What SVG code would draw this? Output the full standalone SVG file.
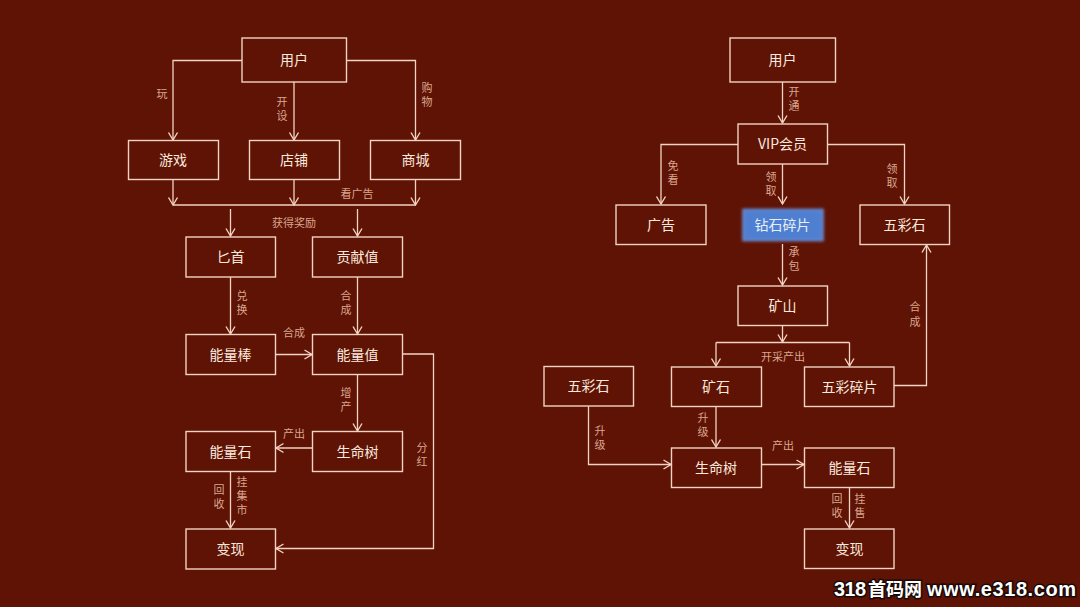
<svg xmlns="http://www.w3.org/2000/svg" width="1080" height="607" viewBox="0 0 1080 607">
<style>
text{font-family:"Noto Sans CJK SC","Liberation Sans",sans-serif;text-anchor:middle}
.n rect{fill:none;stroke:#f3d3c2;stroke-width:1.4}
.n text{fill:#fbe9de;font-size:14px;font-weight:400}
.c path{fill:none;stroke:#f3d3c2;stroke-width:1.3;marker-end:url(#a)}
.c path.p{marker-end:none}
.l text{fill:#dba58e;font-size:11px}
.w{fill:#fff;stroke:#1a0a06;stroke-width:3;paint-order:stroke;font-weight:700;font-family:"Liberation Sans","Noto Sans CJK SC",sans-serif;font-size:20px;text-anchor:start}
</style>
<defs>
<marker id="a" markerUnits="userSpaceOnUse" markerWidth="12" markerHeight="12" refX="9" refY="6" orient="auto"><path d="M1.500 1.500L9 6L1.500 10.500" fill="none" stroke="#f3d3c2" stroke-width="1.4"/></marker>
<filter id="b" x="-20%" y="-30%" width="140%" height="160%"><feGaussianBlur stdDeviation="1.5"/></filter>
</defs>
<rect width="1080" height="607" fill="#5e1305"/>
<g class="c" id="connectors">
<path d="M242 60.500H173V140"/>
<path d="M294 82V140"/>
<path d="M347 60.500H415.500V140"/>
<path d="M173 180V205"/>
<path d="M294 180V205"/>
<path d="M415.500 180V205"/>
<path class="p" d="M173 205H415.500"/>
<path d="M230.500 209V236"/>
<path d="M357.500 209V236"/>
<path d="M230.500 277V334"/>
<path d="M357.500 277V334"/>
<path d="M276 354.500H312"/>
<path d="M357.500 374.500V431"/>
<path d="M312 448H276"/>
<path d="M230.500 471.500V528"/>
<path d="M403 354H433.500V548.500H276"/>
<path d="M782.500 82V123"/>
<path d="M738 144.500H661V204"/>
<path d="M782.500 164V204"/>
<path d="M828 144.500H904.500V204"/>
<path d="M782.500 244V285"/>
<path d="M782.500 326V342"/>
<path class="p" d="M716 342.500H849.500"/>
<path d="M716 342.500V366"/>
<path d="M849.500 342.500V366"/>
<path d="M894 385.500H926.500V245"/>
<path d="M716 406.500V447"/>
<path d="M588.500 406V464.500H671"/>
<path d="M761.500 464.500H804"/>
<path d="M849.500 488V528"/>
</g>
<g class="n" id="left-user"><rect x="242" y="38" width="104.500" height="44"/><text x="294" y="65">用户</text></g>
<g class="n" id="left-game"><rect x="128.500" y="140.500" width="90" height="39"/><text x="173" y="165">游戏</text></g>
<g class="n" id="left-shop"><rect x="249.500" y="140.500" width="90" height="39"/><text x="294" y="165">店铺</text></g>
<g class="n" id="left-mall"><rect x="370.500" y="140.500" width="90" height="39"/><text x="415.500" y="165">商城</text></g>
<g class="n" id="left-dagger"><rect x="186" y="237" width="89.500" height="40"/><text x="230.500" y="262">匕首</text></g>
<g class="n" id="left-contrib"><rect x="312.500" y="237" width="90" height="40"/><text x="357.500" y="262">贡献值</text></g>
<g class="n" id="left-bar"><rect x="186" y="334.500" width="89.500" height="40"/><text x="230.500" y="359.500">能量棒</text></g>
<g class="n" id="left-value"><rect x="312.500" y="334.500" width="90" height="40"/><text x="357.500" y="359.500">能量值</text></g>
<g class="n" id="left-stone"><rect x="186" y="431.500" width="89.500" height="40"/><text x="230.500" y="456.500">能量石</text></g>
<g class="n" id="left-tree"><rect x="312.500" y="431.500" width="90" height="40"/><text x="357.500" y="456.500">生命树</text></g>
<g class="n" id="left-cash"><rect x="186" y="529" width="89.500" height="40"/><text x="230.500" y="554">变现</text></g>
<g class="n" id="right-user"><rect x="730" y="38" width="105.500" height="44"/><text x="782.500" y="65">用户</text></g>
<g class="n" id="right-vip"><rect x="738" y="124" width="89.500" height="40"/><text x="782.500" y="149">VIP会员</text></g>
<g class="n" id="right-ad"><rect x="616" y="205" width="90" height="39.500"/><text x="661" y="230">广告</text></g>
<g id="right-diamond"><rect x="743" y="209.500" width="80" height="31" fill="#4f7fd0" stroke="#6f97e0" stroke-width="1.500" filter="url(#b)"/><text x="782.500" y="230" fill="#e6eefb" font-size="14">钻石碎片</text></g>
<g class="n" id="right-color"><rect x="860" y="205" width="89.500" height="39.500"/><text x="904.500" y="230">五彩石</text></g>
<g class="n" id="right-mine"><rect x="738" y="286" width="89.500" height="39.500"/><text x="782.500" y="311">矿山</text></g>
<g class="n" id="right-color2"><rect x="544" y="366.500" width="89.500" height="39.500"/><text x="588.500" y="391">五彩石</text></g>
<g class="n" id="right-ore"><rect x="671.500" y="367" width="90" height="39.500"/><text x="716" y="392">矿石</text></g>
<g class="n" id="right-frag"><rect x="804.500" y="367" width="89.500" height="39.500"/><text x="849.500" y="392">五彩碎片</text></g>
<g class="n" id="right-tree"><rect x="671.500" y="448" width="90" height="39.500"/><text x="716" y="473">生命树</text></g>
<g class="n" id="right-stone"><rect x="804.500" y="448" width="89.500" height="39.500"/><text x="849.500" y="473">能量石</text></g>
<g class="n" id="right-cash"><rect x="804.500" y="529" width="89.500" height="39.500"/><text x="849.500" y="554">变现</text></g>
<g class="l" id="labels">
<text x="162" y="98">玩</text>
<text x="282" y="106">开</text><text x="282" y="120">设</text>
<text x="427" y="92">购</text><text x="427" y="106">物</text>
<text x="357" y="198">看广告</text>
<text x="294" y="227">获得奖励</text>
<text x="242" y="300">兑</text><text x="242" y="314">换</text>
<text x="346" y="300">合</text><text x="346" y="314">成</text>
<text x="294" y="337">合成</text>
<text x="346" y="397">增</text><text x="346" y="411">产</text>
<text x="294" y="438">产出</text>
<text x="422" y="452">分</text><text x="422" y="466">红</text>
<text x="219" y="494">回</text><text x="219" y="508">收</text>
<text x="242" y="486">挂</text><text x="242" y="500">集</text><text x="242" y="514">市</text>
<text x="794" y="96">开</text><text x="794" y="110">通</text>
<text x="673" y="170">免</text><text x="673" y="184">看</text>
<text x="771" y="181">领</text><text x="771" y="195">取</text>
<text x="892" y="173">领</text><text x="892" y="187">取</text>
<text x="794" y="256">承</text><text x="794" y="270">包</text>
<text x="915" y="311">合</text><text x="915" y="326">成</text>
<text x="783" y="361">开采产出</text>
<text x="600" y="435">升</text><text x="600" y="449">级</text>
<text x="703" y="422">升</text><text x="703" y="436">级</text>
<text x="783" y="450">产出</text>
<text x="837" y="503">回</text><text x="837" y="517">收</text>
<text x="860" y="503">挂</text><text x="860" y="517">售</text>
</g>
<text class="w" x="834" y="596"><tspan x="834" textLength="32" lengthAdjust="spacing">318</tspan><tspan x="868" font-size="18">首码网 </tspan><tspan x="927" textLength="149" lengthAdjust="spacing">www.e318.com</tspan></text>
</svg>
